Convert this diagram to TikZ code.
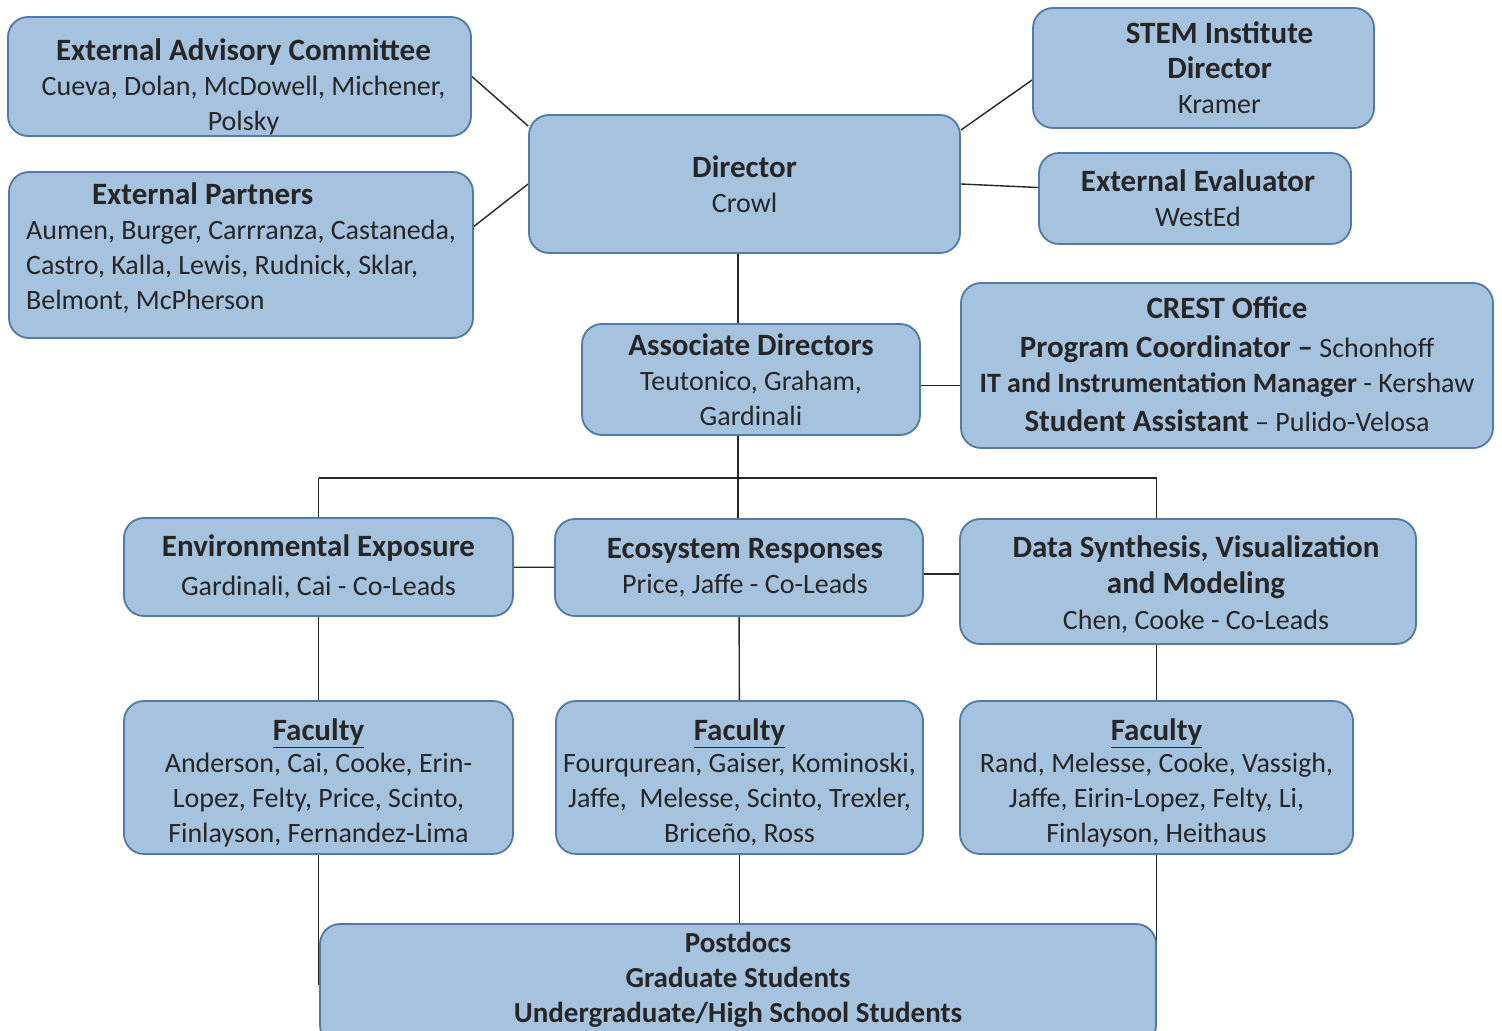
\documentclass[tikz,border=0pt]{standalone}
\usepackage{fontspec}
\setmainfont{Carlito}
\usepackage{tikz}
\usetikzlibrary{
  positioning,
  backgrounds}

\definecolor{boxfill}{HTML}{A5C2DF}
\definecolor{boxline}{HTML}{4F7BA6}
\definecolor{inkgray}{HTML}{262626}

\newcommand\unithead[1]{{\fontsize{15.5}{17.5}\selectfont\bfseries #1}}

\tikzset{
  unitbox/.style={draw=boxline, fill=boxfill, line width=0.9pt, rounded corners=10pt,
    align=center, text=inkgray, inner sep=2pt,
    font=\fontsize{14}{17.5}\selectfont},
  link/.style={draw=inkgray, line width=0.7pt},
}

\begin{document}
\begin{tikzpicture}[x=0.5pt, y=-0.5pt]
\useasboundingbox (0,0) rectangle (1502,1031);

% top row
\node[unitbox, minimum width=231.5pt, minimum height=59.5pt, text height=54.5pt, text depth=0.5pt] (advisory) at (239.5,76.5)
  {\hspace*{4pt}\unithead{External Advisory Committee}\\\hspace*{4pt}Cueva, Dolan, McDowell, Michener,\\\hspace*{4pt}Polsky};
\node[unitbox, align=left, minimum width=232pt, minimum height=83pt, text height=60pt, text depth=5pt] (partners) at (241,255)
  {\hspace*{33pt}\unithead{External Partners}\\Aumen, Burger, Carrranza, Castaneda,\\Castro, Kalla, Lewis, Rudnick, Sklar,\\Belmont, McPherson};
\node[unitbox, minimum width=215.5pt, minimum height=69pt] (director) at (744.5,184)
  {\unithead{Director}\\Crowl};
\node[unitbox, minimum width=170.5pt, minimum height=60pt] (stem) at (1203.5,68)
  {\hspace*{16pt}\unithead{STEM Institute}\\\hspace*{16pt}\unithead{Director}\\\hspace*{16pt}Kramer};
\node[unitbox, minimum width=156pt, minimum height=45.5pt] (evaluator) at (1195,198.5)
  {\hspace*{3pt}\unithead{External Evaluator}\\\hspace*{3pt}WestEd};

% middle
\node[unitbox, minimum width=169pt, minimum height=55.5pt] (assoc) at (751,379.5)
  {\unithead{Associate Directors}\\Teutonico, Graham,\\Gardinali};
\node[unitbox, minimum width=266pt, minimum height=82.5pt, text height=70pt, text depth=4pt] (crest) at (1227,365.5)
  {\unithead{CREST Office}\\[2pt]\unithead{Program Coordinator –} Schonhoff\\\textbf{IT and Instrumentation Manager} - Kershaw\\[2pt]\unithead{Student Assistant} – Pulido-Velosa};

% research areas
\node[unitbox, minimum width=194.5pt, minimum height=49pt] (envexp) at (318.5,567)
  {\unithead{Environmental Exposure}\\[2pt]Gardinali, Cai - Co-Leads};
\node[unitbox, minimum width=184pt, minimum height=48.5pt] (ecoresp) at (739,567.5)
  {\hspace*{6pt}\unithead{Ecosystem Responses}\\\hspace*{6pt}Price, Jaffe - Co-Leads};
\node[unitbox, minimum width=228pt, minimum height=62.5pt, text height=52.5pt, text depth=5pt] (datasyn) at (1188,581.5)
  {\hspace*{8pt}\unithead{Data Synthesis, Visualization}\\[0.5pt]\hspace*{8pt}\unithead{and Modeling}\\[0.5pt]\hspace*{8pt}Chen, Cooke - Co-Leads};

% faculty
\node[unitbox, minimum width=194.5pt, minimum height=76.5pt, text height=68.5pt, text depth=4pt] (faculty1) at (318.5,777.5)
  {\unithead{\underline{Faculty}}\\[-1.5pt]Anderson, Cai, Cooke, Erin-\\Lopez, Felty, Price, Scinto,\\Finlayson, Fernandez-Lima};
\node[unitbox, minimum width=183.5pt, minimum height=76.5pt, text height=68.5pt, text depth=4pt] (faculty2) at (739.5,777.5)
  {\unithead{\underline{Faculty}}\\[-1.5pt]Fourqurean, Gaiser, Kominoski,\\Jaffe,~ Melesse, Scinto, Trexler,\\Briceño, Ross};
\node[unitbox, minimum width=196.5pt, minimum height=76.5pt, text height=68.5pt, text depth=4pt] (faculty3) at (1156.5,777.5)
  {\unithead{\underline{Faculty}}\\[-1.5pt]Rand, Melesse, Cooke, Vassigh,\\Jaffe, Eirin-Lopez, Felty, Li,\\Finlayson, Heithaus};

\node[unitbox, minimum width=418pt, minimum height=60.5pt, text height=41.5pt, text depth=4pt,
  font=\fontsize{14.5}{17.3}\selectfont] (students) at (738,984.5)
  {\textbf{Postdocs}\\\textbf{Graduate Students}\\\textbf{Undergraduate/High School Students}};

\coordinate (spine) at (738,478);

\begin{scope}[on background layer]
\draw[link] (advisory.east) -- (director.165);
\draw[link] (partners.7) -- (director.west);
\draw[link] (director.14) -- (stem.184);
\draw[link] (director.east) -- (evaluator.176);
\draw[link] (spine |- director.center) -- (spine |- assoc.center);
\draw[link] (assoc.-2.5) -- (assoc.-2.5 -| crest.center);
\draw[link] (spine |- assoc.center) -- (spine |- ecoresp.center);
\draw[link] (envexp.north |- spine) -- (faculty3.north |- spine);
\draw[link] (envexp.north |- spine) -- (envexp.center);
\draw[link] (faculty3.north |- spine) -- (faculty3.north |- datasyn.center);
\draw[link] (envexp.center) -- (ecoresp.center);
\draw[link] (ecoresp.-2.3) -- (ecoresp.-2.3 -| datasyn.center);
\draw[link] (envexp.center) -- (faculty1.center);
\draw[link] (ecoresp.center) -- (faculty2.center);
\draw[link] (faculty3.north |- datasyn.center) -- (faculty3.center);
\draw[link] (faculty1.center) -- (faculty1.center |- students.center);
\draw[link] (faculty2.center) -- (faculty2.center |- students.center);
\draw[link] (faculty3.center) -- (faculty3.center |- students.center);
\end{scope}
\end{tikzpicture}
\end{document}
